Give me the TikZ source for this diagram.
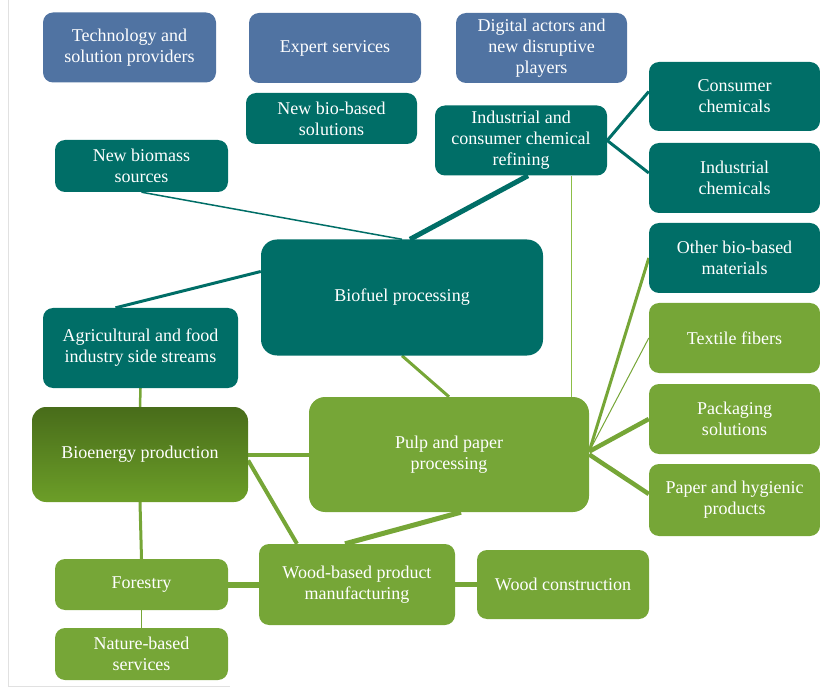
\documentclass[tikz,border=0pt]{standalone}
\usepackage{fontspec}
\setmainfont{Liberation Serif}
\usepackage{tikz}
\definecolor{bl}{RGB}{80, 115, 162}
\definecolor{tl}{RGB}{0, 110, 103}
\definecolor{gr}{RGB}{118, 166, 55}
\definecolor{gd}{RGB}{72, 108, 26}
\definecolor{gm}{RGB}{108, 158, 40}
\definecolor{gv}{RGB}{140, 190, 70}
\definecolor{fr}{RGB}{225, 225, 225}
\pgfdeclarelayer{bg}
\pgfsetlayers{bg,main}

\begin{document}
\begin{tikzpicture}[
  box/.style={rectangle, rounded corners=10pt, inner sep=0pt, align=center, text=white,
    font=\fontsize{18}{21}\selectfont},
  bluebox/.style={box, fill=bl},
  tealbox/.style={box, fill=tl},
  greenbox/.style={box, fill=gr},
  tl line/.style={color=tl},
  gr line/.style={color=gr}]
\useasboundingbox (0pt, 0pt) rectangle (820pt, -687pt);
\draw [line width=0.8pt, color=fr] (8pt, 0pt) -- (8pt, -686pt) -- (230pt, -686pt);
% top row
\node (tech) [bluebox, minimum width=173pt, minimum height=70pt] at (129.5pt, -47.5pt) {Technology and\\solution providers};
\node (expert) [bluebox, minimum width=172pt, minimum height=70pt] at (335pt, -48pt) {Expert services};
\node (digital) [bluebox, minimum width=171pt, minimum height=70pt] at (541.5pt, -48pt) {Digital actors and\\new disruptive\\players};
% teal boxes
\node (newsol) [tealbox, minimum width=171pt, minimum height=51pt] at (331.5pt, -118.5pt) {New bio-based\\solutions};
\node (refining) [tealbox, minimum width=172pt, minimum height=70pt] at (521pt, -140.5pt) {Industrial and\\consumer chemical\\refining};
\node (consumer) [tealbox, minimum width=171pt, minimum height=69pt] at (734.5pt, -96.5pt) {Consumer\\chemicals};
\node (industrial) [tealbox, minimum width=171pt, minimum height=70pt] at (734.5pt, -178pt) {Industrial\\chemicals};
\node (otherbio) [tealbox, minimum width=171pt, minimum height=70pt] at (734.5pt, -258pt) {Other bio-based\\materials};
\node (biomass) [tealbox, minimum width=173pt, minimum height=52pt] at (141.5pt, -166pt) {New biomass\\sources};
\node (biofuel) [tealbox, rounded corners=16pt, minimum width=282pt, minimum height=116pt] at (402pt, -297.5pt) {Biofuel processing};
\node (agri) [tealbox, minimum width=195pt, minimum height=80pt] at (140.5pt, -348pt) {Agricultural and food\\industry side streams};
% green boxes
\node (bioenergy) [box, rounded corners=14pt, top color=gd, bottom color=gm, minimum width=216pt, minimum height=95pt] at (140pt, -454.5pt) {Bioenergy production};
\node (pulp) [greenbox, rounded corners=16pt, minimum width=280pt, minimum height=115pt] at (449pt, -454.5pt) {Pulp and paper\\processing};
\node (textile) [greenbox, minimum width=171pt, minimum height=70pt] at (734.5pt, -338pt) {Textile fibers};
\node (packaging) [greenbox, minimum width=171pt, minimum height=70pt] at (734.5pt, -419pt) {Packaging\\solutions};
\node (paper) [greenbox, minimum width=171pt, minimum height=72pt] at (734.5pt, -500pt) {Paper and hygienic\\products};
\node (wood) [greenbox, minimum width=196pt, minimum height=81pt] at (357pt, -584.5pt) {Wood-based product\\manufacturing};
\node (construct) [greenbox, minimum width=172pt, minimum height=69pt] at (563pt, -584.5pt) {Wood construction};
\node (forestry) [greenbox, minimum width=173pt, minimum height=51pt] at (141.5pt, -584.5pt) {Forestry};
\node (nature) [greenbox, minimum width=173pt, minimum height=52pt] at (141.5pt, -654pt) {Nature-based\\services};
% links
\begin{pgfonlayer}{bg}
\draw [tl line, line width=1.5pt] (biomass.south) to (biofuel.north);
\draw [tl line, line width=5pt] ([xshift=7pt]refining.south) to ([xshift=8pt]biofuel.north);
\draw [tl line, line width=3pt] (refining.east) to ([yshift=5pt]consumer.west);
\draw [tl line, line width=3pt] (refining.east) to ([yshift=5pt]industrial.west);
\draw [tl line, line width=3pt] ([yshift=26pt]biofuel.west) to ([xshift=-25pt]agri.north);
\draw [gr line, line width=2.5pt] (agri.south) to (bioenergy.north);
\draw [gr line, line width=3pt] (biofuel.south) to (pulp.north);
\draw [color=gv, line width=1.4pt] ([xshift=-36pt]refining.south east) to ([xshift=-36pt]refining.south east |- pulp.north);
\draw [gr line, line width=3pt] ([yshift=3pt]pulp.east) to (otherbio.west);
\draw [gr line, line width=1pt] ([yshift=3pt]pulp.east) to (textile.west);
\draw [gr line, line width=4.5pt] ([yshift=3pt]pulp.east) to (packaging.west);
\draw [gr line, line width=4.5pt] (pulp.east) to ([yshift=6pt]paper.west);
\draw [gr line, line width=4pt] (bioenergy.east) to (pulp.west);
\draw [gr line, line width=4pt] ([yshift=-6pt]bioenergy.east) to ([xshift=-60pt]wood.north);
\draw [gr line, line width=5pt] ([xshift=12pt]pulp.south) to ([xshift=-12pt]wood.north);
\draw [gr line, line width=3pt] (bioenergy.south) to (forestry.north);
\draw [gr line, line width=6pt] (forestry.east) to (wood.west);
\draw [gr line, line width=5pt] (wood.east) to (construct.west);
\draw [gr line, line width=1.5pt] (forestry.south) to (nature.north);
\end{pgfonlayer}
\end{tikzpicture}
\end{document}
